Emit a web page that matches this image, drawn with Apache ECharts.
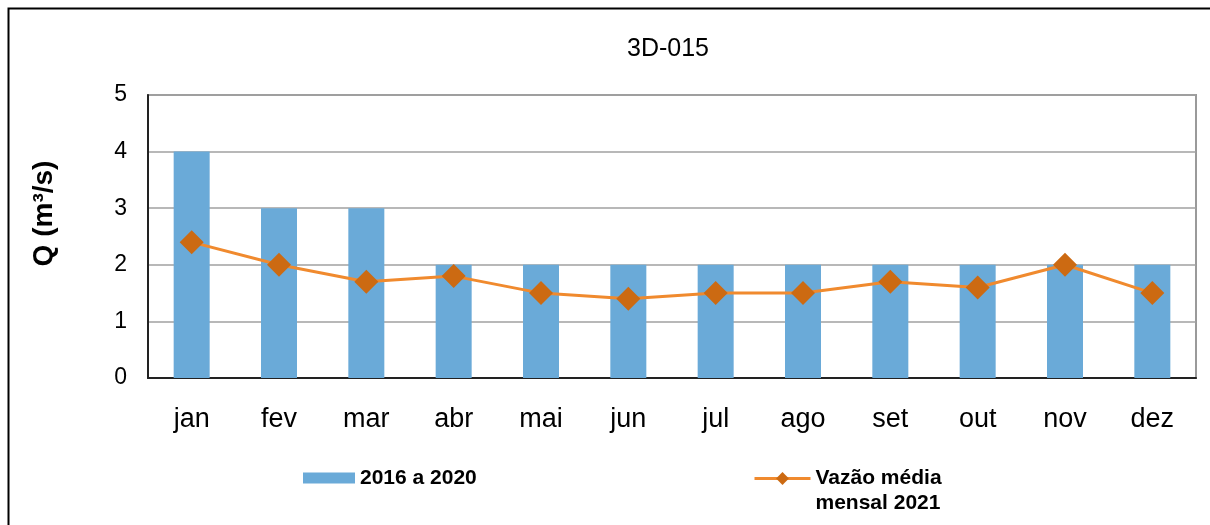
<!DOCTYPE html>
<html>
<head>
<meta charset="utf-8">
<title>3D-015</title>
<script src="https://cdn.jsdelivr.net/npm/echarts@6/dist/echarts.min.js"></script>
<style>
  html, body { margin: 0; padding: 0; background: #fff; }
  #chart { width: 1210px; height: 525px; }
</style>
</head>
<body>
<div id="chart"></div>
<script>
// dados
var meses = ['jan', 'fev', 'mar', 'abr', 'mai', 'jun', 'jul', 'ago', 'set', 'out', 'nov', 'dez'];
var media2016a2020 = [4, 3, 3, 2, 2, 2, 2, 2, 2, 2, 2, 2];
var vazao2021 = [2.4, 2.0, 1.7, 1.8, 1.5, 1.4, 1.5, 1.5, 1.7, 1.6, 2.0, 1.5];
var nomeBarra = '2016 a 2020';
var nomeLinha = 'Vazão média\nmensal 2021';

var fonte = "'Liberation Sans', Arial, sans-serif";

var myChart = echarts.init(document.getElementById('chart'));

var option = {
    animation: false,
    textStyle: { fontFamily: fonte, color: '#000' },
    title: {
        text: '3D-015',
        left: 627,
        top: 37,
        padding: 0,
        textStyle: { fontSize: 25, fontWeight: 'normal', color: '#000', fontFamily: fonte }
    },
    graphic: [
        { // moldura externa
            type: 'rect',
            left: 6, top: 6,
            shape: { width: 1230, height: 540 },
            style: { fill: 'none', stroke: '#000', lineWidth: 2 },
            silent: true
        }
    ],
    legend: [
        {
            data: [nomeBarra],
            left: 303,
            top: 466,
            padding: 0,
            itemWidth: 52,
            itemHeight: 11,
            icon: 'rect',
            textStyle: { fontSize: 21, fontWeight: 'bold', color: '#000', lineHeight: 24, fontFamily: fonte }
        },
        {
            data: [nomeLinha],
            left: 753,
            top: 441,
            padding: 0,
            itemWidth: 56,
            itemHeight: 16,
            lineStyle: { width: 3 },
            // linha vazia no topo para alinhar o ícone com a primeira linha
            formatter: function (name) { return '\n' + name; },
            textStyle: { fontSize: 21, fontWeight: 'bold', color: '#000', lineHeight: 25, fontFamily: fonte }
        }
    ],
    grid: {
        left: 148,
        right: 14,
        top: 95,
        bottom: 147,
        show: true,
        borderColor: '#9a9a9a',
        borderWidth: 2
    },
    xAxis: {
        type: 'category',
        data: meses,
        axisLine: { lineStyle: { color: '#222', width: 2 } },
        axisTick: { show: false },
        axisLabel: { fontSize: 27, color: '#000', margin: 28, fontFamily: fonte }
    },
    yAxis: {
        type: 'value',
        min: 0,
        max: 5,
        interval: 1,
        name: 'Q (m³/s)',
        nameLocation: 'middle',
        nameGap: 90,
        nameTextStyle: { fontSize: 28, fontWeight: 'bold', color: '#000', padding: [0, 0, 0, 46], fontFamily: fonte },
        axisLine: { show: true, lineStyle: { color: '#222', width: 2 } },
        axisTick: { show: false },
        axisLabel: { fontSize: 23, color: '#000', margin: 21, fontFamily: fonte },
        splitLine: { lineStyle: { color: '#a0a0a0', width: 1.5 } }
    },
    series: [
        {
            name: nomeBarra,
            type: 'bar',
            data: media2016a2020,
            barWidth: 36,
            itemStyle: { color: '#6aaad8' }
        },
        {
            name: nomeLinha,
            type: 'line',
            data: vazao2021,
            symbol: 'diamond',
            symbolSize: 24,
            lineStyle: { color: '#f08a2e', width: 3 },
            itemStyle: { color: '#cc6a12' }
        }
    ]
};

myChart.setOption(option);
</script>
</body>
</html>
